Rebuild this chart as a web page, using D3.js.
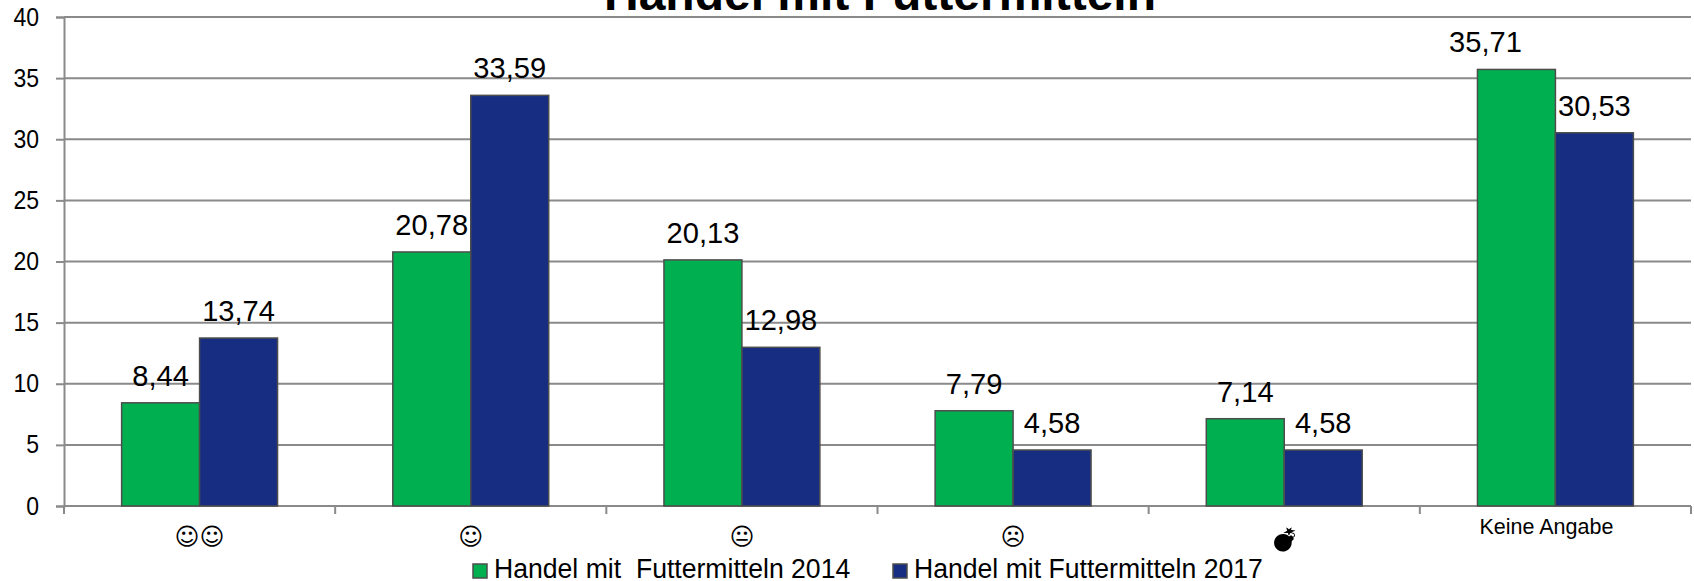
<!DOCTYPE html>
<html><head><meta charset="utf-8">
<script src="https://cdn.jsdelivr.net/npm/d3@7"></script>
<style>html,body{margin:0;padding:0;background:#fff;overflow:hidden}svg{display:block}text{font-family:"Liberation Sans",Arial,sans-serif;fill:#000}</style>
</head><body><svg id="c" width="1694" height="581"></svg>
<script>
const categories=["☺☺","☺","😐","☹","💣","Keine Angabe"];
const series2014=[8.44,20.78,20.13,7.79,7.14,35.71];
const series2017=[13.74,33.59,12.98,4.58,4.58,30.53];
const seriesNames=["Handel mit  Futtermitteln 2014","Handel mit Futtermitteln 2017"];
const yTicks=[0,5,10,15,20,25,30,35,40];
const title="Handel mit Futtermitteln";
const colors=["#00B050","#172D82"];
const gridCol="#8a8a8a";
const L=64,R=1691,T=17,B=506;
const svg=d3.select("#c");
const x=d3.scaleBand().domain(categories).range([L,R]).paddingInner(0.425).paddingOuter(0.2125);
const xOuter=d3.scaleBand().domain(categories).range([L,R]);
const xs=d3.scaleBand().domain([0,1]).range([0,x.bandwidth()]);
const y=d3.scaleLinear().domain([0,40]).range([B,T]);
// taller, slightly condensed glyphs as in the stretched original
function condense(sel,k){sel.each(function(){this.setAttribute("textLength",this.getComputedTextLength()*k);this.setAttribute("lengthAdjust","spacingAndGlyphs");});}

const gy=svg.append("g").attr("transform",`translate(${L},0)`).call(d3.axisLeft(y).tickValues(yTicks).tickSize(8).tickPadding(6).tickFormat(d3.format("d")));
gy.select(".domain").attr("stroke",gridCol).attr("stroke-width",2);
gy.selectAll(".tick line").attr("stroke",gridCol).attr("stroke-width",2);
gy.selectAll(".tick text").attr("font-size",25).attr("x",-25).call(condense,0.92);
svg.append("g").selectAll("line").data(yTicks).join("line")
 .attr("x1",L).attr("x2",R).attr("y1",d=>y(d)).attr("y2",d=>y(d)).attr("stroke",gridCol).attr("stroke-width",2);

svg.append("g").selectAll("line").data(categories.map(c=>xOuter(c)).concat([R])).join("line")
 .attr("x1",d=>d).attr("x2",d=>d).attr("y1",B).attr("y2",B+8).attr("stroke",gridCol).attr("stroke-width",2);

[series2014,series2017].forEach((vals,si)=>{
  svg.append("g").selectAll("rect").data(vals).join("rect")
   .attr("x",(d,i)=>x(categories[i])+xs(si)).attr("width",xs.bandwidth())
   .attr("y",d=>y(d)).attr("height",d=>y(0)-y(d))
   .attr("fill",colors[si]).attr("stroke","#4d4d4d").attr("stroke-width",1.5);
  svg.append("g").selectAll("text").data(vals).join("text")
   .attr("x",(d,i)=>x(categories[i])+xs(si)+xs.bandwidth()/2+(d===35.71?-31:0))
   .attr("y",d=>y(d)-17).attr("text-anchor","middle").attr("font-size",30)
   .text(d=>String(d.toFixed(2)).replace(".",",")).call(condense,0.97);
});

svg.append("g").selectAll("text").data(categories).join("text")
 .attr("x",(d,i)=>x(d)+x.bandwidth()/2+(i===5?-9:0))
 .attr("y",(d,i)=>i===5?534:i===4?547:545)
 .attr("text-anchor","middle")
 .attr("font-size",(d,i)=>i===5?21.5:i===4?22:24)
 .style("font-family",(d,i)=>i===5?null:'"DejaVu Sans"')
 .style("filter",(d,i)=>i===4?"grayscale(1) brightness(0.35) contrast(3)":null)
 .text(d=>d);

svg.append("text").attr("x",880).attr("y",10).attr("text-anchor","middle").attr("font-size",48).attr("font-weight","bold").text(title);

const legendX=[473,893];
seriesNames.forEach((n,i)=>{
  svg.append("rect").attr("x",legendX[i]).attr("y",564).attr("width",14).attr("height",14).attr("fill",colors[i]).attr("stroke","#4d4d4d").attr("stroke-width",1.5);
  svg.append("text").attr("x",legendX[i]+21).attr("y",578).attr("font-size",27).style("white-space","pre").text(n).call(condense,0.985);
});
</script></body></html>
